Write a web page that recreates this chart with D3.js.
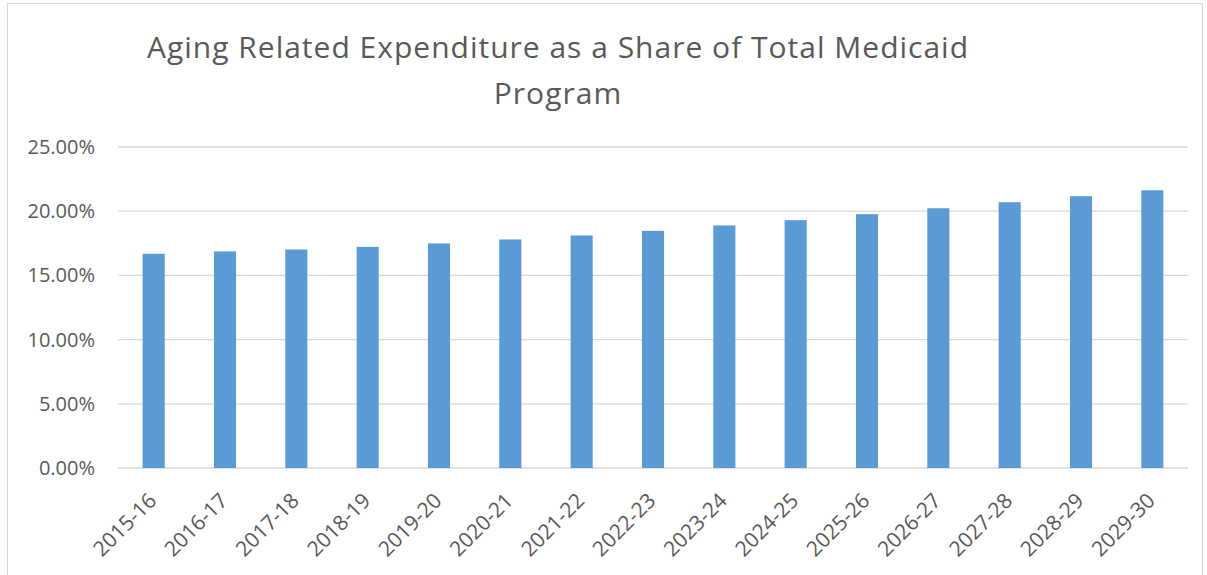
<!DOCTYPE html>
<html>
<head>
<meta charset="utf-8">
<script src="https://cdn.jsdelivr.net/npm/d3@7"></script>
<style>
  body { margin: 0; background: #fff; }
  text { font-family: "Open Sans", sans-serif; fill: #595959; }
</style>
</head>
<body>
<svg></svg>
<script>
var years = ["2015-16","2016-17","2017-18","2018-19","2019-20","2020-21","2021-22","2022-23",
             "2023-24","2024-25","2025-26","2026-27","2027-28","2028-29","2029-30"];
var shares = [0.1668,0.1687,0.1702,0.1722,0.1749,0.1780,0.1811,0.1847,
              0.1889,0.1930,0.1977,0.2023,0.2070,0.2117,0.2163];
var yTicks = [0,0.05,0.10,0.15,0.20,0.25];
var titleLines = ["Aging Related Expenditure as a Share of Total Medicaid","Program"];

var drawGraph = function()
{
  var screen = {width:1207, height:575};

  var svg = d3.select("svg")
              .attr("width",screen.width)
              .attr("height",screen.height);

  var margins = {top:147, bottom:107, left:118, right:19};
  var width = screen.width - margins.left - margins.right;
  var height = screen.height - margins.top - margins.bottom;

  // chart frame
  svg.append("rect")
     .attr("x",7.5).attr("y",3.5)
     .attr("width",1195).attr("height",580)
     .attr("fill","none")
     .attr("stroke","#d9d9d9");

  var xScale = d3.scaleBand()
                 .domain(years)
                 .range([0,width])
                 .paddingInner(0.69)
                 .paddingOuter(0.345);

  var yScale = d3.scaleLinear()
                 .domain([0,0.25])
                 .range([height,0]);

  var plotLand = svg.append("g")
                    .attr("transform","translate("+margins.left+","+margins.top+")");

  // gridlines
  plotLand.selectAll("line.grid")
          .data(yTicks)
          .enter()
          .append("line")
          .classed("grid",true)
          .attr("x1",0).attr("x2",width)
          .attr("y1",function(d) {return yScale(d)})
          .attr("y2",function(d) {return yScale(d)})
          .attr("stroke","#d9d9d9")
          .attr("stroke-width",1.3);

  // y labels
  var yAxis = d3.axisLeft(yScale)
                .tickValues(yTicks)
                .tickFormat(d3.format(".2%"))
                .tickSize(0)
                .tickPadding(23);

  plotLand.append("g")
          .call(yAxis)
          .call(function(g) {g.select(".domain").remove()})
          .selectAll("text")
          .attr("font-size","20px")
          .attr("font-family","Open Sans")
          .attr("fill","#595959");

  plotLand.selectAll("rect.bar")
          .data(shares)
          .enter()
          .append("rect")
          .classed("bar",true)
          .attr("x",function(d,i) {return xScale(years[i])})
          .attr("y",function(d) {return yScale(d)})
          .attr("width",xScale.bandwidth())
          .attr("height",function(d) {return height - yScale(d)})
          .attr("fill","#5b9bd5");

  // x labels
  var xAxis = d3.axisBottom(xScale).tickSize(0);

  var xg = plotLand.append("g")
                   .attr("transform","translate(0,"+height+")")
                   .call(xAxis);
  xg.select(".domain").remove();
  xg.selectAll("text")
    .attr("font-size","21px")
    .attr("font-family","Open Sans")
    .attr("fill","#595959")
    .attr("text-anchor","end")
    .attr("y",0).attr("dy",0)
    .attr("transform","translate(4,34) rotate(-45)");

  // title
  svg.append("text")
     .attr("text-anchor","middle")
     .attr("font-size","30px")
     .attr("letter-spacing","1px")
     .selectAll("tspan")
     .data(titleLines)
     .enter()
     .append("tspan")
     .attr("x",558)
     .attr("y",function(d,i) {return 58 + i*46})
     .text(function(d) {return d});
}

drawGraph();
</script>
</body>
</html>
